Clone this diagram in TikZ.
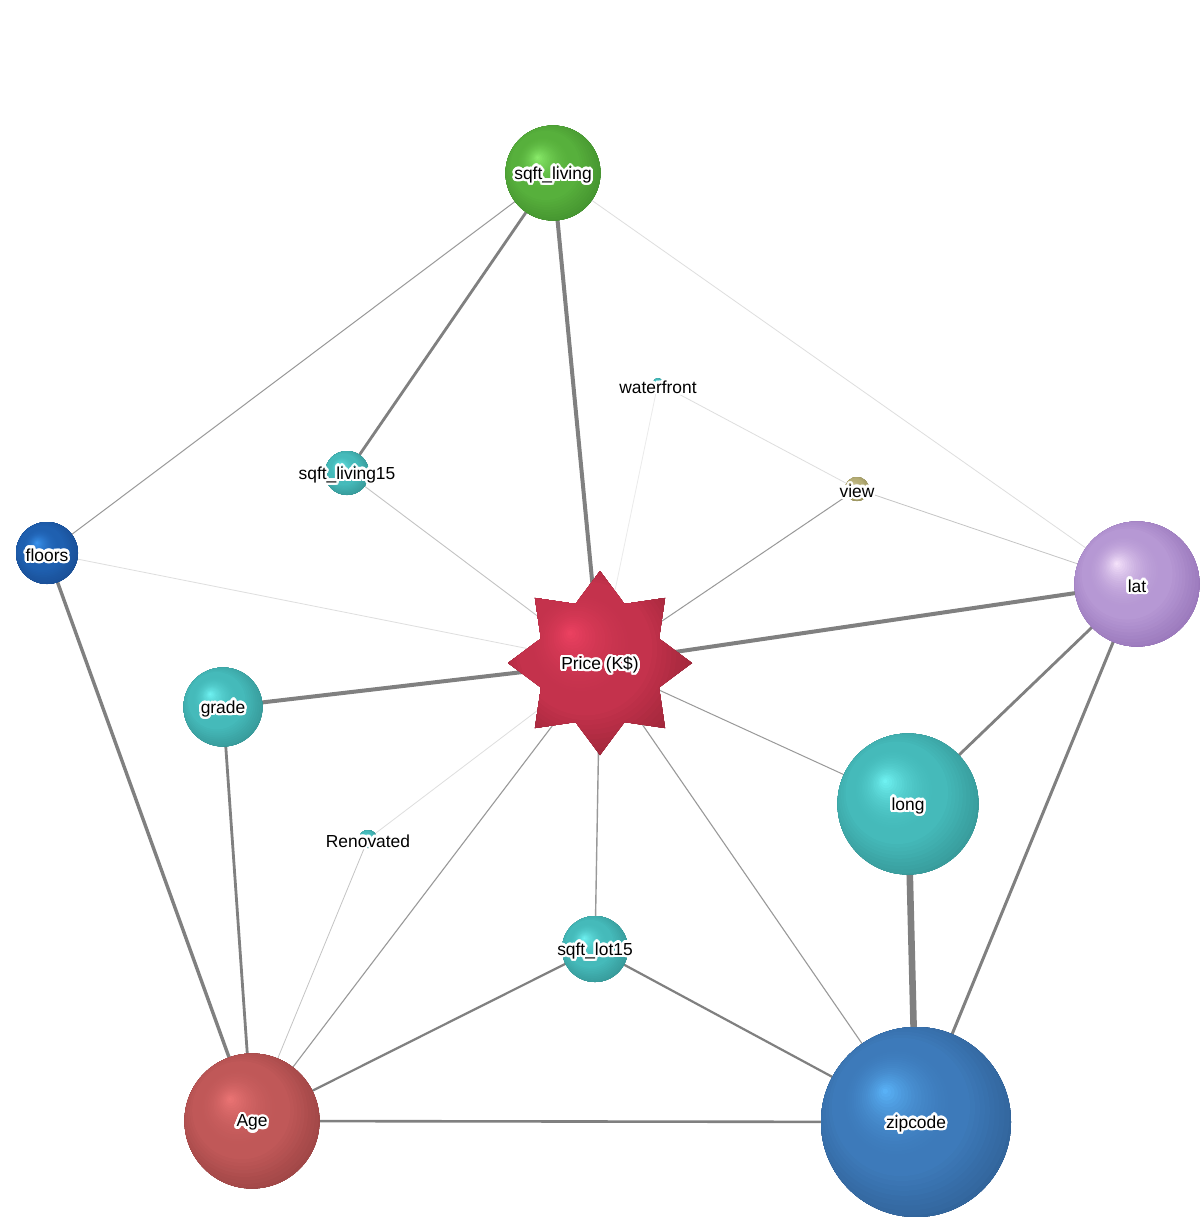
\documentclass[tikz,border=0pt]{standalone}
\usepackage{fontspec}
\setmainfont{Liberation Sans}
\usepackage{contour}
\contourlength{1.2pt}
\contournumber{24}
\usetikzlibrary{shapes.geometric}

\definecolor{tealA}{HTML}{72F6F6}
\definecolor{tealB}{HTML}{45BABA}
\definecolor{tealC}{HTML}{2E8686}
\definecolor{grnA}{HTML}{8EF06E}
\definecolor{grnB}{HTML}{57B03C}
\definecolor{grnC}{HTML}{3A8228}
\definecolor{fluA}{HTML}{3C98F4}
\definecolor{fluB}{HTML}{1F60B0}
\definecolor{fluC}{HTML}{164486}
\definecolor{latA}{HTML}{FAE8FE}
\definecolor{latB}{HTML}{B698D4}
\definecolor{latC}{HTML}{8864AC}
\definecolor{ageA}{HTML}{EE7676}
\definecolor{ageB}{HTML}{C05858}
\definecolor{ageC}{HTML}{8A3A3A}
\definecolor{zipA}{HTML}{5CB6FC}
\definecolor{zipB}{HTML}{3D7ABA}
\definecolor{zipC}{HTML}{2A5686}
\definecolor{prA}{HTML}{EE4262}
\definecolor{prB}{HTML}{C4324C}
\definecolor{prC}{HTML}{881F2E}
\definecolor{viwA}{HTML}{DAD2A6}
\definecolor{viwB}{HTML}{B6AE76}
\definecolor{viwC}{HTML}{8E8856}
\definecolor{egA}{HTML}{808080}
\definecolor{egB}{HTML}{999999}
\definecolor{egC}{HTML}{C4C4C4}
\definecolor{egD}{HTML}{DEDEDE}

% #1 radius (pt, number), #2 colour prefix
\newcommand\gradfill[2]{%
  \fill[#2C] (path picture bounding box.south west) rectangle (path picture bounding box.north east);
  \foreach \i in {1,...,16}{%
    \pgfmathsetmacro\tt{0.48*\i/16}%
    \pgfmathtruncatemacro\pp{100*\i/16}%
    \pgfmathsetmacro\rr{1.4*#1*(1-\tt)}%
    \pgfmathsetmacro\dd{0.33*#1*\tt}%
    \fill[#2B!\pp!#2C, shift={(path picture bounding box.center)}] (-\dd pt,\dd pt) circle[radius=\rr pt];
  }%
  \foreach \i in {1,...,22}{%
    \pgfmathsetmacro\tt{0.55+0.45*\i/22}%
    \pgfmathsetmacro\uu{\i/22}%
    \pgfmathtruncatemacro\pp{100*\uu*\uu}%
    \pgfmathsetmacro\rr{1.4*#1*(1-\tt)}%
    \pgfmathsetmacro\dd{0.33*#1*\tt}%
    \fill[#2A!\pp!#2B, shift={(path picture bounding box.center)}] (-\dd pt,\dd pt) circle[radius=\rr pt];
  }%
}

\pgfdeclarelayer{bgl}
\pgfdeclarelayer{edges}
\pgfsetlayers{bgl,edges,main}

\tikzset{
  ball/.style 2 args={circle, inner sep=0pt, minimum size=2*#1pt, draw=none, path picture={\gradfill{#1}{#2}}},
  lbl/.style={font=\fontsize{8.7}{10}\selectfont, inner sep=0pt, text=black, yshift=-1.5pt},
  e/.style 2 args={line width=#1, draw=#2},
}

\begin{document}
\begin{tikzpicture}[x=0.5pt, y=-0.5pt]
\begin{pgfonlayer}{bgl}
  \fill[white] (0,0) rectangle (1200,1217);
\end{pgfonlayer}
\useasboundingbox (0,0) rectangle (1200,1217);

% nodes
\node[ball={23.75}{grn}] (sl) at (553,173) {};
\node[ball={2.5}{teal}] (wf) at (658,383) {};
\node[ball={6}{viw}] (vw) at (857,489) {};
\node[ball={11}{teal}] (sl15) at (347,473) {};
\node[ball={15.5}{flu}] (fl) at (47,553) {};
\node[ball={31.25}{lat}] (lat) at (1137,584) {};
\node[ball={19.75}{teal}] (gr) at (223,707) {};
\node[star, star points=8, star point ratio=1.44, minimum size=92pt, inner sep=0pt, draw=none, path picture={\gradfill{46}{pr}}] (pr) at (600,663) {};
\node[ball={35.25}{teal}] (lg) at (908,804) {};
\node[ball={4.5}{teal}] (ren) at (368,839) {};
\node[ball={16.5}{teal}] (lot) at (595,949) {};
\node[ball={33.75}{age}] (age) at (252,1121) {};
\node[ball={47.5}{zip}] (zip) at (916,1122) {};

% labels
\node[lbl] (sl-l) at (sl) {\contour{white}{sqft\_living}};
\node[lbl] (wf-l) at (658,385) {\contour{white}{waterfront}};
\node[lbl] (vw-l) at (vw) {\contour{white}{view}};
\node[lbl] (sl15-l) at (sl15) {\contour{white}{sqft\_living15}};
\node[lbl] (fl-l) at (fl) {\contour{white}{floors}};
\node[lbl] (lat-l) at (lat) {\contour{white}{lat}};
\node[lbl] (gr-l) at (gr) {\contour{white}{grade}};
\node[lbl] (pr-l) at (pr) {\contour{white}{Price (K\$)}};
\node[lbl] (lg-l) at (lg) {\contour{white}{long}};
\node[lbl] (ren-l) at (ren) {\contour{white}{Renovated}};
\node[lbl] (lot-l) at (lot) {\contour{white}{sqft\_lot15}};
\node[lbl] (age-l) at (age) {\contour{white}{Age}};
\node[lbl] (zip-l) at (zip) {\contour{white}{zipcode}};

% edges
\begin{pgfonlayer}{edges}
\draw[e={2pt}{egA}] (sl.center) -- (pr.center);
\draw[e={1.4pt}{egA}] (sl.center) -- (sl15.center);
\draw[e={0.5pt}{egB}] (sl.center) -- (fl.center);
\draw[e={0.4pt}{egD}] (sl.center) -- (lat.center);
\draw[e={0.4pt}{egD}] (wf.center) -- (vw.center);
\draw[e={0.4pt}{egD!60!white}] (wf.center) -- (pr.center);
\draw[e={0.4pt}{egC}] (vw.center) -- (lat.center);
\draw[e={0.5pt}{egB}] (vw.center) -- (pr.center);
\draw[e={0.45pt}{egC}] (sl15.center) -- (pr.center);
\draw[e={0.4pt}{egD}] (fl.center) -- (pr.center);
\draw[e={1.7pt}{egA}] (fl.center) -- (age.center);
\draw[e={2pt}{egA}] (lat.center) -- (pr.center);
\draw[e={1.4pt}{egA}] (lat.center) -- (lg.center);
\draw[e={1.5pt}{egA}] (lat.center) -- (zip.center);
\draw[e={2pt}{egA}] (gr.center) -- (pr.center);
\draw[e={1.4pt}{egA}] (gr.center) -- (age.center);
\draw[e={0.5pt}{egB}] (pr.center) -- (lg.center);
\draw[e={0.4pt}{egD}] (pr.center) -- (ren.center);
\draw[e={0.4pt}{egC}] (ren.center) -- (age.center);
\draw[e={0.55pt}{egB}] (pr.center) -- (age.center);
\draw[e={0.7pt}{egB}] (pr.center) -- (lot.center);
\draw[e={0.55pt}{egB}] (pr.center) -- (zip.center);
\draw[e={3.3pt}{egA}] (lg.center) -- (zip.center);
\draw[e={1.1pt}{egA}] (lot.center) -- (age.center);
\draw[e={1.1pt}{egA}] (lot.center) -- (zip.center);
\draw[e={1.3pt}{egA}] (age.center) -- (zip.center);
\end{pgfonlayer}
\end{tikzpicture}
\end{document}
